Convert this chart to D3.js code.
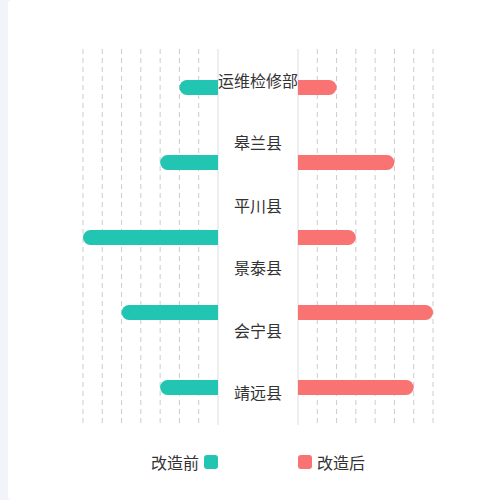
<!DOCTYPE html>
<html>
<head>
<meta charset="utf-8">
<script src="https://cdn.jsdelivr.net/npm/d3@7/dist/d3.min.js"></script>
<style>
  html, body { margin: 0; padding: 0; background: #f3f4f9; }
  #card { position: absolute; left: 8px; top: 0; width: 492px; height: 500px; background: #fff; border-radius: 4px 0 0 4px; }
  svg { position: absolute; left: 0; top: 0; }
</style>
</head>
<body>
<div id="card"></div>
<svg id="chart" width="500" height="500"></svg>
<script>
// ---- data ----
const categories = ["运维检修部", "皋兰县", "平川县", "景泰县", "会宁县", "靖远县"];
const beforeValues = [2, 3, 7, 5, 3];   // 改造前 (left)
const afterValues  = [2, 5, 3, 7, 6];   // 改造后 (right)
const seriesNames = ["改造前", "改造后"];
const seriesColors = ["#21c5b2", "#f87371"];
const tickValues = [1, 2, 3, 4, 5, 6, 7];
const axisMax = 7;

// ---- layout ----
const svg = d3.select("#chart");
const gridTop = 50, gridBottom = 425;
const leftX0 = 218, leftX1 = 83;
const rightX0 = 298, rightX1 = 433;
const barH = 15;
const fontFam = "'Noto Sans CJK SC', 'Noto Sans', sans-serif";

const xLeft = d3.scaleLinear().domain([0, axisMax]).range([leftX0, leftX1]);
const xRight = d3.scaleLinear().domain([0, axisMax]).range([rightX0, rightX1]);
const yLabel = d3.scaleBand().domain(categories).range([gridTop, gridBottom]);
const yBar = d3.scaleBand().domain(d3.range(beforeValues.length)).range([gridTop, gridBottom]);

// grid lines
const gGrid = svg.append("g");
gGrid.selectAll("line.gl").data(tickValues).join("line")
  .attr("x1", d => xLeft(d)).attr("x2", d => xLeft(d))
  .attr("y1", gridTop - 1).attr("y2", gridBottom - 1)
  .attr("stroke", "#cccccc").attr("stroke-dasharray", "5,4");
gGrid.selectAll("line.gr").data(tickValues).join("line")
  .attr("x1", d => xRight(d)).attr("x2", d => xRight(d))
  .attr("y1", gridTop - 1).attr("y2", gridBottom - 1)
  .attr("stroke", "#cccccc").attr("stroke-dasharray", "5,4");
// axis lines
[xLeft(0), xRight(0)].forEach(x => {
  svg.append("line").attr("x1", x).attr("x2", x).attr("y1", gridTop - 1).attr("y2", gridBottom)
    .attr("stroke", "#dddddd");
});

// bar path with rounded outer end
function barPath(x0, x1, yc, h) {
  const r = Math.min(h / 2, Math.abs(x1 - x0));
  const y0 = yc - h / 2, y1 = yc + h / 2;
  if (x1 < x0) {
    return `M${x0},${y0} L${x1 + r},${y0} A${r},${r} 0 0 0 ${x1 + r},${y1} L${x0},${y1} Z`;
  } else {
    return `M${x0},${y0} L${x1 - r},${y0} A${r},${r} 0 0 1 ${x1 - r},${y1} L${x0},${y1} Z`;
  }
}

svg.append("g").selectAll("path").data(beforeValues).join("path")
  .filter(d => d > 0)
  .attr("d", (d, i) => barPath(xLeft(0), xLeft(d), yBar(i) + yBar.bandwidth() / 2, barH))
  .attr("fill", seriesColors[0]);
svg.append("g").selectAll("path").data(afterValues).join("path")
  .filter(d => d > 0)
  .attr("d", (d, i) => barPath(xRight(0), xRight(d), yBar(i) + yBar.bandwidth() / 2, barH))
  .attr("fill", seriesColors[1]);

// category labels
svg.append("g").selectAll("text").data(categories).join("text")
  .attr("x", (xLeft(0) + xRight(0)) / 2)
  .attr("y", d => yLabel(d) + yLabel.bandwidth() / 2 - 1.5)
  .attr("text-anchor", "middle").attr("dominant-baseline", "central")
  .attr("font-family", fontFam).attr("font-size", 16).attr("fill", "#333")
  .text(d => d);

// legend
const legY = 462;
const leg = svg.append("g");
leg.append("rect").attr("x", 204).attr("y", legY - 7).attr("width", 14).attr("height", 14)
  .attr("rx", 3).attr("fill", seriesColors[0]);
leg.append("text").attr("x", 199).attr("y", legY).attr("text-anchor", "end")
  .attr("dominant-baseline", "central").attr("font-family", fontFam).attr("font-size", 16)
  .attr("fill", "#333").text(seriesNames[0]);
leg.append("rect").attr("x", 298).attr("y", legY - 7).attr("width", 14).attr("height", 14)
  .attr("rx", 3).attr("fill", seriesColors[1]);
leg.append("text").attr("x", 317).attr("y", legY).attr("text-anchor", "start")
  .attr("dominant-baseline", "central").attr("font-family", fontFam).attr("font-size", 16)
  .attr("fill", "#333").text(seriesNames[1]);
</script>
</body>
</html>
